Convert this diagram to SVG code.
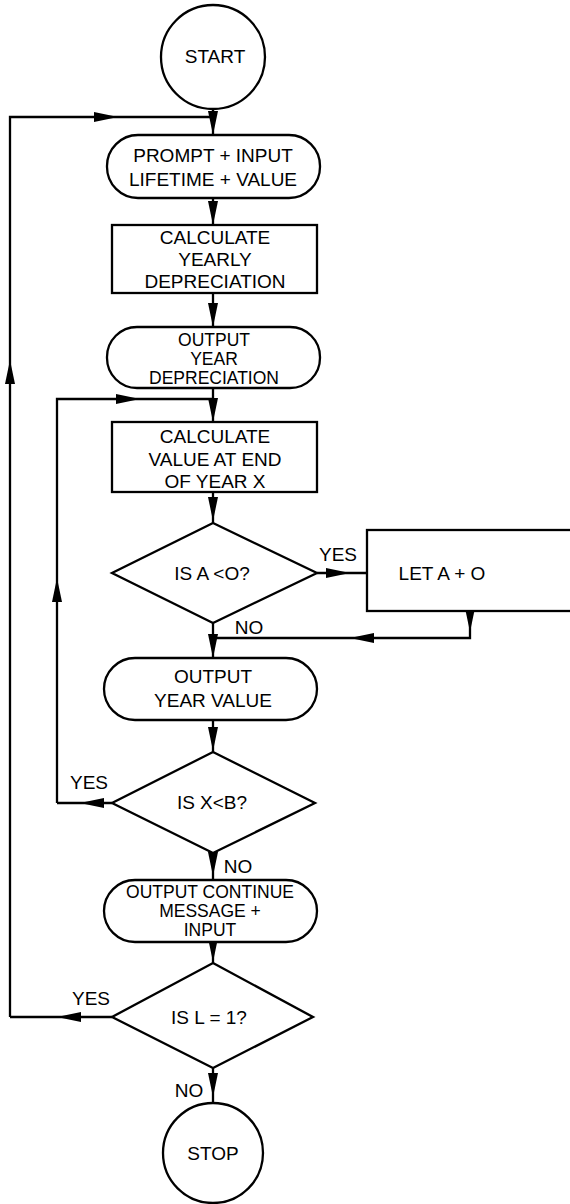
<svg xmlns="http://www.w3.org/2000/svg" width="570" height="1204" viewBox="0 0 570 1204">
<style>
.s{fill:#fff;stroke:#000;stroke-width:2.3}
.c{fill:none;stroke:#000;stroke-width:2.3}
text{font-family:"Liberation Sans",Arial,sans-serif;font-size:19px;fill:#000;text-anchor:middle}
.lb{font-size:19px}
.t{font-size:17.5px}
</style>
<defs>
<path id="ah" d="M0,0 L-5,-24 L5,-24 Z" fill="#000"/>
</defs>
<rect width="570" height="1204" fill="#fff"/>
<g id="connectors">
<path class="c" d="M213,109 V135"/>
<path class="c" d="M10,1017 V117 H213"/>
<path class="c" d="M213,198 V225"/>
<path class="c" d="M213,293 V327"/>
<path class="c" d="M213,388 V422"/>
<path class="c" d="M57,803 V399 H213"/>
<path class="c" d="M213,492 V523"/>
<path class="c" d="M317,573 H367"/>
<path class="c" d="M470,611 V638 H213"/>
<path class="c" d="M213,623 V658"/>
<path class="c" d="M213,720 V752"/>
<path class="c" d="M112,803 H57"/>
<path class="c" d="M213,853 V880"/>
<path class="c" d="M213,942 V963"/>
<path class="c" d="M112,1017 H10"/>
<path class="c" d="M213,1068 V1103"/>
<use href="#ah" transform="translate(213,135)"/>
<use href="#ah" transform="translate(118,117) rotate(-90)"/>
<use href="#ah" transform="translate(10,360) rotate(180)"/>
<use href="#ah" transform="translate(213,225)"/>
<use href="#ah" transform="translate(213,327)"/>
<use href="#ah" transform="translate(213,422)"/>
<use href="#ah" transform="translate(140,399) rotate(-90)"/>
<use href="#ah" transform="translate(213,521)"/>
<use href="#ah" transform="translate(350,573) rotate(-90)"/>
<use href="#ah" transform="translate(470,632)"/>
<use href="#ah" transform="translate(350,638) rotate(90)"/>
<use href="#ah" transform="translate(213,658)"/>
<use href="#ah" transform="translate(213,751)"/>
<use href="#ah" transform="translate(80,803) rotate(90)"/>
<use href="#ah" transform="translate(57,578) rotate(180)"/>
<use href="#ah" transform="translate(213,876)"/>
<use href="#ah" transform="translate(213,962)"/>
<use href="#ah" transform="translate(57,1017) rotate(90)"/>
<use href="#ah" transform="translate(213,1097)"/>
<text class="lb" x="338" y="561">YES</text>
<text class="lb" x="249" y="634">NO</text>
<text class="lb" x="89" y="789">YES</text>
<text class="lb" x="238" y="873">NO</text>
<text class="lb" x="91" y="1005">YES</text>
<text class="lb" x="189" y="1097">NO</text>
</g>
<g id="start">
<circle class="s" cx="213" cy="57" r="52"/>
<text x="215" y="63">START</text>
</g>
<g id="prompt">
<rect class="s" x="107" y="135" width="213" height="63" rx="31"/>
<text x="213" y="162">PROMPT + INPUT</text>
<text x="213" y="186">LIFETIME + VALUE</text>
</g>
<g id="calc-dep">
<rect class="s" x="112" y="225" width="205" height="68"/>
<text x="215" y="244">CALCULATE</text>
<text x="215" y="266">YEARLY</text>
<text x="215" y="288">DEPRECIATION</text>
</g>
<g id="out-dep">
<rect class="s" x="107" y="327" width="213" height="61" rx="30"/>
<text class="t" x="214" y="346">OUTPUT</text>
<text class="t" x="214" y="365">YEAR</text>
<text class="t" x="214" y="384">DEPRECIATION</text>
</g>
<g id="calc-val">
<rect class="s" x="112" y="422" width="205" height="70"/>
<text x="215" y="443">CALCULATE</text>
<text x="215" y="466">VALUE AT END</text>
<text x="215" y="488">OF YEAR X</text>
</g>
<g id="dec-a">
<polygon class="s" points="213,523 317,573 213,623 112,573"/>
<text x="212" y="580">IS A &lt;O?</text>
</g>
<g id="let">
<rect class="s" x="367" y="530" width="215" height="81"/>
<text x="442" y="580">LET A + O</text>
</g>
<g id="out-val">
<rect class="s" x="104" y="658" width="213" height="62" rx="31"/>
<text x="213" y="683">OUTPUT</text>
<text x="213" y="707">YEAR VALUE</text>
</g>
<g id="dec-x">
<polygon class="s" points="213,752 315,803 213,853 112,803"/>
<text x="212" y="809">IS X&lt;B?</text>
</g>
<g id="out-cont">
<rect class="s" x="104" y="880" width="213" height="62" rx="31"/>
<text class="t" x="210" y="898">OUTPUT CONTINUE</text>
<text class="t" x="210" y="917">MESSAGE +</text>
<text class="t" x="210" y="936">INPUT</text>
</g>
<g id="dec-l">
<polygon class="s" points="213,963 313,1017 213,1068 112,1017"/>
<text x="209" y="1024">IS L = 1?</text>
</g>
<g id="stop">
<circle class="s" cx="213" cy="1153" r="50"/>
<text x="213" y="1160">STOP</text>
</g>
</svg>
